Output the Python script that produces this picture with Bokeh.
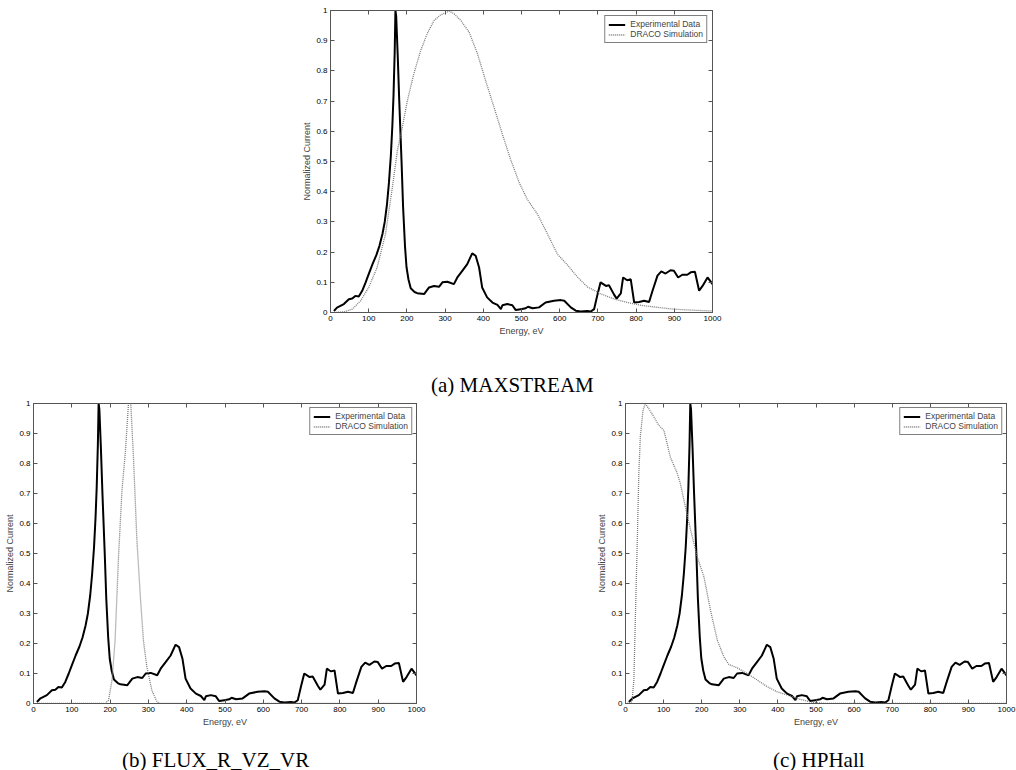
from bokeh.plotting import figure
from bokeh.models import (LinearAxis, FixedTicker, CustomJSTickFormatter, Div,
                          Range1d, Legend, LegendItem, Spacer)
from bokeh.layouts import column, row
from bokeh.embed import file_html
from bokeh.resources import INLINE

# ---------------- data ----------------
exp_energy = [9, 17, 26, 35, 48, 57, 65, 74, 83, 92, 100, 110, 120, 128, 136, 142, 148, 153,
              158, 162, 165, 168, 170, 172, 176, 180, 186, 190, 195, 199, 204, 210, 220,
              227, 245, 258, 271, 284, 293, 306, 323, 332, 345,
              358, 371, 380, 389, 397, 410, 424, 437, 446, 450, 463, 476, 485, 498, 511, 517,
              529, 546, 563, 585, 603, 612, 629, 642, 655, 672, 681, 690, 699, 707, 721, 729,
              742, 749, 760, 766, 773, 777, 786, 795, 808, 821, 834, 843, 856, 866, 877, 890,
              899, 910, 921, 934, 943, 954, 965, 974, 987, 1000]
exp_current = [0.005, 0.016, 0.022, 0.028, 0.044, 0.046, 0.055, 0.053, 0.072, 0.1, 0.127, 0.16,
               0.19, 0.22, 0.26, 0.3, 0.36, 0.43, 0.52, 0.62, 0.72, 0.86, 1.0, 0.98, 0.85,
               0.7, 0.5, 0.35, 0.22, 0.15, 0.11, 0.08, 0.068,
               0.064, 0.061, 0.083, 0.088, 0.085, 0.1, 0.102,
               0.094, 0.116, 0.138, 0.16, 0.196, 0.188, 0.149, 0.083, 0.05, 0.033, 0.025, 0.011,
               0.024, 0.028, 0.024, 0.008, 0.011, 0.014, 0.019, 0.014, 0.017, 0.033, 0.039,
               0.041, 0.039, 0.017, 0.006, 0.003, 0.005, 0.003, 0.011, 0.06, 0.10, 0.088, 0.09,
               0.06, 0.046, 0.063, 0.116, 0.11, 0.107, 0.11, 0.033, 0.035, 0.039, 0.035, 0.072,
               0.122, 0.136, 0.129, 0.14, 0.138, 0.116, 0.125, 0.125, 0.133, 0.135, 0.072,
               0.088, 0.116, 0.094]

sim_a_energy = [9, 35, 57, 79, 100, 122, 144, 162, 175, 188, 201, 218, 236, 253, 271, 288, 310,
                323, 341, 363, 385, 406, 428, 450, 472, 494, 515, 542, 568, 594, 620, 646, 672,
                707, 742, 777, 812, 856, 899, 943, 1000]
sim_a_current = [0.0, 0.002, 0.011, 0.039, 0.083, 0.149, 0.26, 0.414, 0.536, 0.613, 0.70, 0.79,
                 0.867, 0.923, 0.967, 0.985, 0.998, 0.99, 0.967, 0.928, 0.856, 0.768, 0.68,
                 0.59, 0.505, 0.43, 0.375, 0.325, 0.26, 0.193, 0.158, 0.118, 0.085, 0.062, 0.045,
                 0.033, 0.024, 0.017, 0.011, 0.008, 0.005]

sim_b_energy = [9, 187, 196, 205, 213, 222, 231, 240, 248, 254, 261, 270, 279, 287, 296, 309,
                322, 331, 1000]
sim_b_current = [0.0, 0.0, 0.011, 0.078, 0.21, 0.49, 0.71, 0.84, 1.0, 1.0, 0.82, 0.544, 0.356,
                 0.21, 0.122, 0.044, 0.006, 0.0, 0.0]

sim_c_energy = [4, 17, 22, 26, 31, 35, 39, 46, 52, 61, 74, 87, 101, 118, 136, 144, 157, 171,
                188, 206, 223, 241, 258, 271, 293, 319, 346, 372, 398, 425, 460, 494, 529, 1000]
sim_c_current = [0.0, 0.006, 0.078, 0.29, 0.544, 0.767, 0.89, 0.978, 1.0, 0.983, 0.956, 0.928,
                 0.91, 0.82, 0.767, 0.733, 0.656, 0.578, 0.49, 0.422, 0.311, 0.211, 0.156, 0.13,
                 0.119, 0.1, 0.078, 0.056, 0.039, 0.028, 0.013, 0.003, 0.0, 0.0]

x_ticks = [0, 100, 200, 300, 400, 500, 600, 700, 800, 900, 1000]
y_ticks = [0, 0.1, 0.2, 0.3, 0.4, 0.5, 0.6, 0.7, 0.8, 0.9, 1]
x_label = "Energy, eV"
y_label = "Normalized Current"
series_names = ["Experimental Data", "DRACO Simulation"]
captions = ["(a) MAXSTREAM", "(b) FLUX_R_VZ_VR", "(c) HPHall"]

SANS = "Liberation Sans"
SERIF = "Liberation Serif"
AX = "#555555"


def style_axis(ax, ticks, labels=True):
    ax.ticker = FixedTicker(ticks=ticks)
    ax.major_tick_in = 4
    ax.major_tick_out = 0
    ax.minor_tick_line_color = None
    ax.axis_line_color = AX
    ax.major_tick_line_color = AX
    ax.major_label_text_font = SANS
    ax.major_label_text_font_size = "8px"
    ax.major_label_text_color = "black" if labels else None
    ax.major_label_standoff = 3 if labels else 0
    ax.axis_label_text_font = SANS
    ax.axis_label_text_font_size = "9px"
    ax.axis_label_text_font_style = "normal"
    ax.axis_label_standoff = 2


def make_panel(sim_e, sim_c, left, fw, fh, top, bottom, right, leg_margin):
    p = figure(width=left + fw + right, height=top + fh + bottom,
               x_range=Range1d(0, 1000), y_range=Range1d(0, 1),
               output_backend="svg", toolbar_location=None,
               min_border_left=left, min_border_right=right,
               min_border_top=top, min_border_bottom=bottom,
               x_axis_label=x_label, y_axis_label=y_label)
    p.grid.visible = False
    p.outline_line_color = AX
    p.background_fill_color = "white"
    p.border_fill_color = "white"
    style_axis(p.xaxis[0], x_ticks)
    style_axis(p.yaxis[0], y_ticks)
    p.yaxis[0].formatter = CustomJSTickFormatter(
        code="return (tick == 0 || tick == 1) ? tick.toFixed(0) : tick.toFixed(1);")
    p.yaxis[0].axis_label_standoff = 1
    top_ax = LinearAxis()
    style_axis(top_ax, x_ticks, labels=False)
    top_ax.major_label_text_font_size = "0px"
    p.add_layout(top_ax, "above")
    right_ax = LinearAxis()
    style_axis(right_ax, y_ticks, labels=False)
    right_ax.major_label_text_font_size = "0px"
    p.add_layout(right_ax, "right")

    r_exp = p.line(exp_energy, exp_current, line_color="black", line_width=2)
    r_sim = p.line(sim_e, sim_c, line_color="#7a7a7a", line_width=1.3, line_dash="1 1")

    leg = Legend(items=[LegendItem(label=series_names[0], renderers=[r_exp]),
                        LegendItem(label=series_names[1], renderers=[r_sim])],
                 location="top_right", margin=leg_margin, padding=3, spacing=0,
                 label_text_font=SANS, label_text_font_size="8.5px",
                 label_height=9, glyph_height=9, glyph_width=17, label_standoff=5,
                 border_line_color="black", border_line_width=1,
                 background_fill_alpha=1.0)
    p.add_layout(leg, "center")
    return p


def caption_div(text, width, height, pad_top):
    html = ("<div style=\"font-family:'Liberation Serif',serif;font-size:21px;"
            "line-height:24px;white-space:nowrap;color:black;padding-top:%dpx\">%s</div>"
            % (pad_top, text))
    return Div(text=html, width=width, height=height, margin=0)


fa = make_panel(sim_a_energy, sim_a_current, left=40, fw=382, fh=302, top=10,
                bottom=36, right=10, leg_margin=5)
fb = make_panel(sim_b_energy, sim_b_current, left=33, fw=383, fh=300, top=3,
                bottom=37, right=10, leg_margin=4)
fc = make_panel(sim_c_energy, sim_c_current, left=35, fw=381, fh=300, top=3,
                bottom=37, right=10, leg_margin=4)

cap_a = caption_div(captions[0], 300, 52, 25)
cap_b = caption_div(captions[1], 300, 30, 8)
cap_c = caption_div(captions[2], 243, 30, 8)

layout = column(row(Spacer(width=290, height=10), fa),
                row(Spacer(width=431, height=52), cap_a),
                row(fb, Spacer(width=164, height=10), fc),
                row(Spacer(width=122, height=30), cap_b, Spacer(width=351, height=30), cap_c))

open("out.html", "w").write(file_html(layout, INLINE))
